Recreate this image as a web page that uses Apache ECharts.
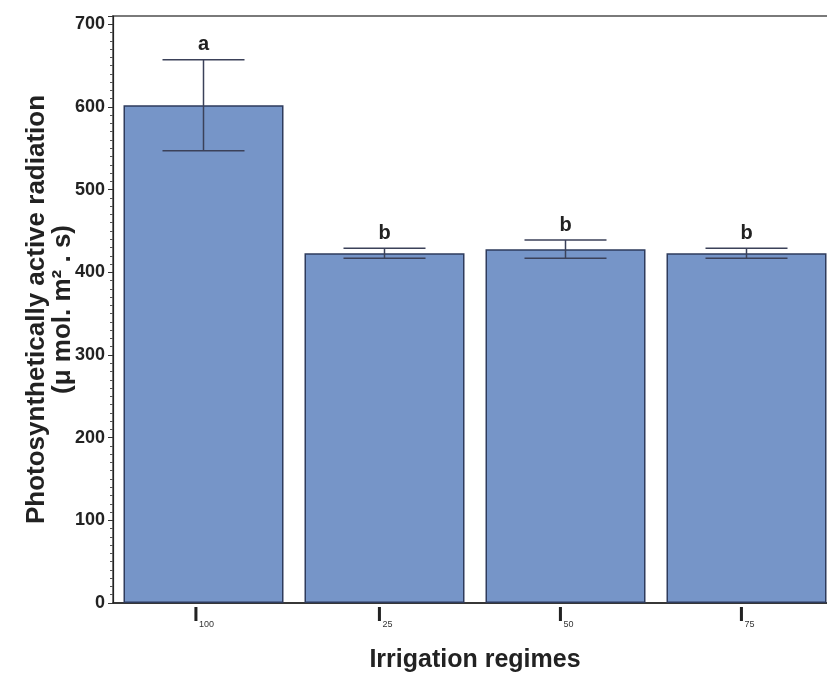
<!DOCTYPE html>
<html>
<head>
<meta charset="utf-8">
<script src="https://cdn.jsdelivr.net/npm/echarts@6/dist/echarts.min.js"></script>
<style>
  html, body { margin: 0; padding: 0; background: #fff; }
  #chart { width: 827px; height: 673px; }
</style>
</head>
<body>
<div id="chart"></div>
<script>
// data
var categories = ['100', '25', '50', '75'];   // subscripts of I
var parMeans = [602, 423, 428, 423];
var parErrors = [55, 6, 11, 6];
var groupLetters = ['a', 'b', 'b', 'b'];

var chart = echarts.init(document.getElementById('chart'));

var barColor = '#7695c8';
var edgeColor = '#2e3b5c';
var errColor = '#3b4159';

var errData = categories.map(function (c, i) {
  return [i, parMeans[i] - parErrors[i], parMeans[i] + parErrors[i], groupLetters[i]];
});

chart.setOption({
  animation: false,
  grid: {
    left: 113,
    width: 724,   // plot runs past the right edge of the picture
    top: 16,
    bottom: 70,
    outerBoundsMode: 'none',
    containLabel: false,
    show: true,
    borderColor: '#7a7a7a',
    borderWidth: 2,
    backgroundColor: 'transparent'
  },
  xAxis: {
    type: 'category',
    data: categories,
    name: 'Irrigation regimes',
    nameLocation: 'middle',
    nameGap: 45,
    nameTextStyle: {
      fontFamily: 'Liberation Sans, Arial',
      fontWeight: 'bold',
      fontSize: 25,
      color: '#222'
    },
    axisLine: { lineStyle: { color: '#222', width: 1.5 } },
    axisTick: { show: false },
    axisLabel: {
      margin: 2,
      formatter: function (v) { return '{i|I}{s|' + v + '}'; },
      rich: {
        i: { fontFamily: 'Liberation Sans, Arial', fontWeight: 'bold', fontSize: 21, color: '#222', padding: [0, 0, 3, 0] },
        s: { fontFamily: 'Liberation Sans, Arial', fontSize: 9, color: '#333', verticalAlign: 'bottom' }
      }
    }
  },
  yAxis: {
    type: 'value',
    min: 0,
    max: 710,
    interval: 100,
    name: 'Photosynthetically active radiation\n(μ mol. m² . s)',
    nameLocation: 'middle',
    nameGap: 37,
    nameMoveOverlap: false,
    nameTextStyle: {
      fontFamily: 'Liberation Sans, Arial',
      fontWeight: 'bold',
      fontSize: 26,
      lineHeight: 26,
      color: '#222'
    },
    axisLine: { show: true, lineStyle: { color: '#222', width: 1.2 } },
    axisTick: { show: true, length: 5, lineStyle: { color: '#333' } },
    minorTick: { show: true, splitNumber: 10, length: 3, lineStyle: { color: '#555' } },
    splitLine: { show: false },
    axisLabel: {
      showMaxLabel: false,
      margin: 8,
      fontFamily: 'Liberation Sans, Arial',
      fontWeight: 'bold',
      fontSize: 18,
      color: '#222'
    }
  },
  series: [
    {
      type: 'bar',
      data: parMeans,
      barWidth: 160,
      itemStyle: { color: barColor, borderColor: edgeColor, borderWidth: 1.5 },
      z: 2
    },
    {
      type: 'custom',
      data: errData,
      z: 3,
      renderItem: function (params, api) {
        var x = api.value(0);
        var lo = api.coord([x, api.value(1)]);
        var hi = api.coord([x, api.value(2)]);
        var half = 41;
        var style = { stroke: errColor, lineWidth: 1.5 };
        return {
          type: 'group',
          children: [
            { type: 'line', shape: { x1: hi[0], y1: hi[1], x2: lo[0], y2: lo[1] }, style: style },
            { type: 'line', shape: { x1: hi[0] - half, y1: hi[1], x2: hi[0] + half, y2: hi[1] }, style: style },
            { type: 'line', shape: { x1: lo[0] - half, y1: lo[1], x2: lo[0] + half, y2: lo[1] }, style: style },
            {
              type: 'text',
              x: hi[0],
              y: hi[1] - 5,
              style: {
                text: api.value(3),
                fontFamily: 'Liberation Sans, Arial',
                fontWeight: 'bold',
                fontSize: 20,
                fill: '#222',
                align: 'center',
                verticalAlign: 'bottom'
              }
            }
          ]
        };
      }
    }
  ]
});
</script>
</body>
</html>
